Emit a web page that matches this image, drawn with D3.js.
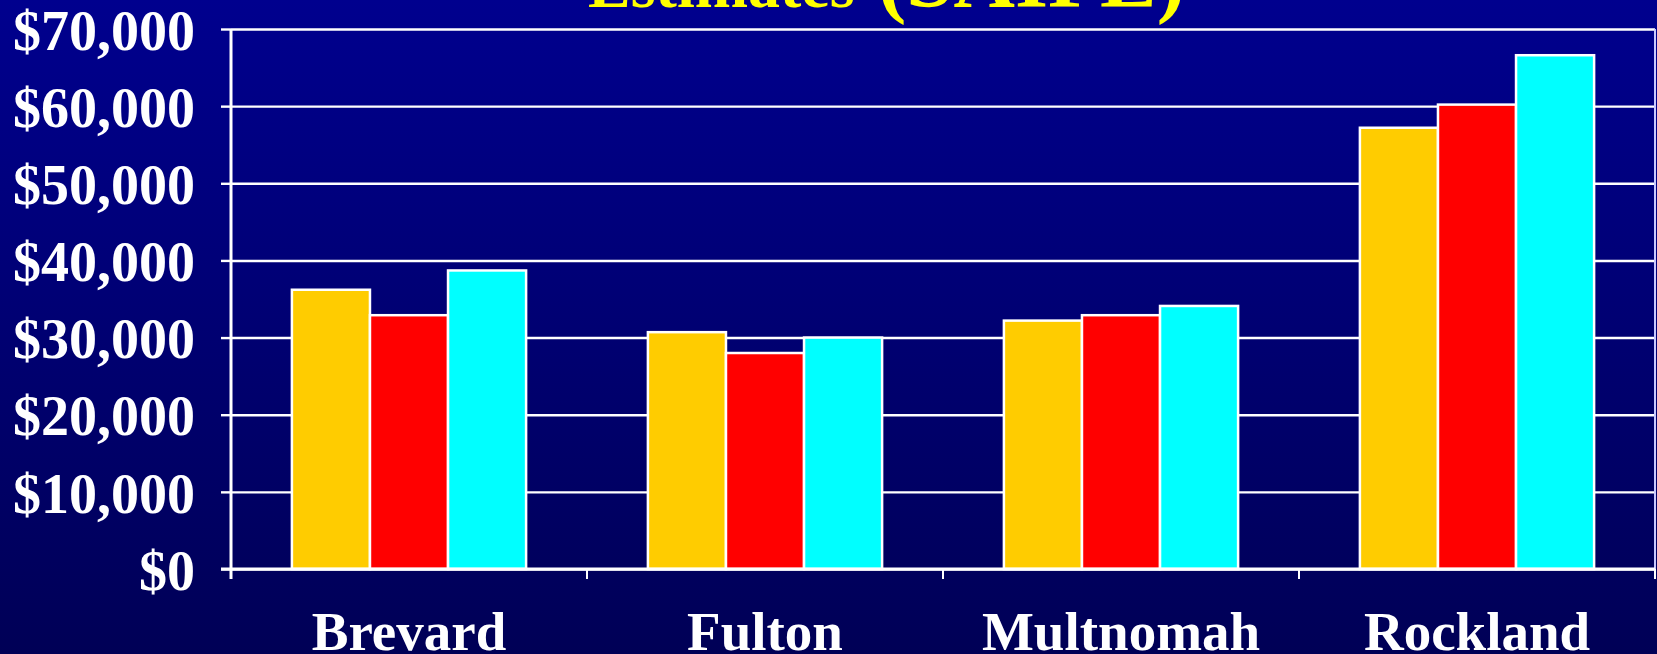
<!DOCTYPE html>
<html>
<head>
<meta charset="utf-8">
<script src="https://cdn.jsdelivr.net/npm/d3@7"></script>
<style>
  body { margin: 0; background: #000070; }
  svg { display: block; }
  text { font-family: "Liberation Serif", "Times New Roman", serif; font-weight: bold; }
</style>
</head>
<body>
<div class="chart"></div>
<script>
var svgWidth = 1657;
var svgHeight = 654;

var margin = { top: 29, right: 2, bottom: 85, left: 231 };
var width = svgWidth - margin.left - margin.right;
var height = svgHeight - margin.top - margin.bottom;

// data
var counties = ["Brevard", "Fulton", "Multnomah", "Rockland"];
var seriesKeys = ["s1", "s2", "s3"];
var seriesColors = ["#FFCC00", "#FF0000", "#00FFFF"];
var s1Values = [36200, 30700, 32200, 57200];
var s2Values = [32900, 28000, 32900, 60200];
var s3Values = [38700, 30000, 34100, 66600];
var yTicks = [0, 10000, 20000, 30000, 40000, 50000, 60000, 70000];
var titleWords = ["Estimates", "(SAIPE)"];

var data = counties.map(function(c, i) {
  return { county: c, s1: s1Values[i], s2: s2Values[i], s3: s3Values[i] };
});

var svg = d3.select(".chart")
  .append("svg")
  .attr("width", svgWidth)
  .attr("height", svgHeight);

// background gradient
var grad = svg.append("defs").append("linearGradient")
  .attr("id", "bg")
  .attr("x1", 0).attr("y1", 0).attr("x2", 0).attr("y2", 1);
grad.append("stop").attr("offset", "0%").attr("stop-color", "#00008E");
grad.append("stop").attr("offset", "100%").attr("stop-color", "#000056");

svg.append("rect")
  .attr("width", svgWidth)
  .attr("height", svgHeight)
  .attr("fill", "url(#bg)");

// title, mostly off the top of the slide
var title = svg.append("text")
  .attr("y", 7)
  .attr("fill", "#FFFF00");
title.append("tspan")
  .attr("x", 588)
  .attr("font-size", "64px")
  .text(titleWords[0]);
title.append("tspan")
  .attr("x", 878)
  .attr("font-size", "85px")
  .text(titleWords[1]);

var chartGroup = svg.append("g")
  .attr("transform", `translate(${margin.left}, ${margin.top})`);

var x0 = d3.scaleBand().domain(counties).range([0, width]).padding(0);
var x1 = d3.scaleBand().domain(seriesKeys).range([0, x0.bandwidth()])
  .paddingInner(0).paddingOuter(0.78);
var y = d3.scaleLinear().domain([0, 70000]).range([height, 0]);

// gridlines
chartGroup.append("g")
  .attr("class", "grid")
  .call(d3.axisLeft(y).tickValues(yTicks).tickSize(-width).tickFormat(""))
  .call(function(g) { g.select(".domain").remove(); })
  .selectAll("line")
  .attr("stroke", "#FFFFFF")
  .attr("stroke-width", 2.4);

// right border of plot
chartGroup.append("line")
  .attr("x1", width).attr("x2", width)
  .attr("y1", y(70000)).attr("y2", y(0))
  .attr("stroke", "#C8C8FF")
  .attr("stroke-width", 2);

// bars
var groups = chartGroup.selectAll(".county")
  .data(data)
  .enter()
  .append("g")
  .attr("class", "county")
  .attr("transform", function(d) { return `translate(${x0(d.county)}, 0)`; });

groups.selectAll("rect")
  .data(function(d) {
    return seriesKeys.map(function(k, i) { return { key: k, value: d[k], color: seriesColors[i] }; });
  })
  .enter()
  .append("rect")
  .attr("x", function(d) { return x1(d.key); })
  .attr("y", function(d) { return y(d.value); })
  .attr("width", x1.bandwidth())
  .attr("height", function(d) { return height - y(d.value); })
  .attr("fill", function(d) { return d.color; })
  .attr("stroke", "#FFFFFF")
  .attr("stroke-width", 2.5);

// y axis
var leftAxis = d3.axisLeft(y)
  .tickValues(yTicks)
  .tickSize(10)
  .tickPadding(26)
  .tickFormat(d3.format("$,.0f"));

var yAxisG = chartGroup.append("g").call(leftAxis);
yAxisG.select(".domain").remove();
yAxisG.selectAll("line").attr("stroke", "#FFFFFF").attr("stroke-width", 2.4);
yAxisG.selectAll("text")
  .attr("fill", "#FFFFFF")
  .attr("font-size", "56px")
  .attr("dy", "0.36em")
  .style("font-family", "'Liberation Serif', 'Times New Roman', serif")
  .style("font-weight", "bold");

chartGroup.append("line")
  .attr("x1", 0).attr("x2", 0)
  .attr("y1", y(70000)).attr("y2", height + 10)
  .attr("stroke", "#FFFFFF")
  .attr("stroke-width", 3);

// x axis
var bottomAxis = d3.axisBottom(x0).tickSize(0).tickPadding(42);
var xAxisG = chartGroup.append("g")
  .attr("transform", `translate(0, ${height})`)
  .call(bottomAxis);
xAxisG.select(".domain").remove();
xAxisG.selectAll("text")
  .attr("fill", "#FFFFFF")
  .attr("font-size", "55px")
  .attr("dy", "0.71em")
  .style("font-family", "'Liberation Serif', 'Times New Roman', serif")
  .style("font-weight", "bold");

chartGroup.append("line")
  .attr("x1", -10).attr("x2", width)
  .attr("y1", height).attr("y2", height)
  .attr("stroke", "#FFFFFF")
  .attr("stroke-width", 3);

// ticks on category boundaries
var bounds = counties.map(function(c) { return x0(c); }).concat([width]);
chartGroup.selectAll(".xtick")
  .data(bounds)
  .enter()
  .append("line")
  .attr("class", "xtick")
  .attr("x1", function(d) { return d; })
  .attr("x2", function(d) { return d; })
  .attr("y1", height)
  .attr("y2", height + 10)
  .attr("stroke", "#FFFFFF")
  .attr("stroke-width", 2);
</script>
</body>
</html>
